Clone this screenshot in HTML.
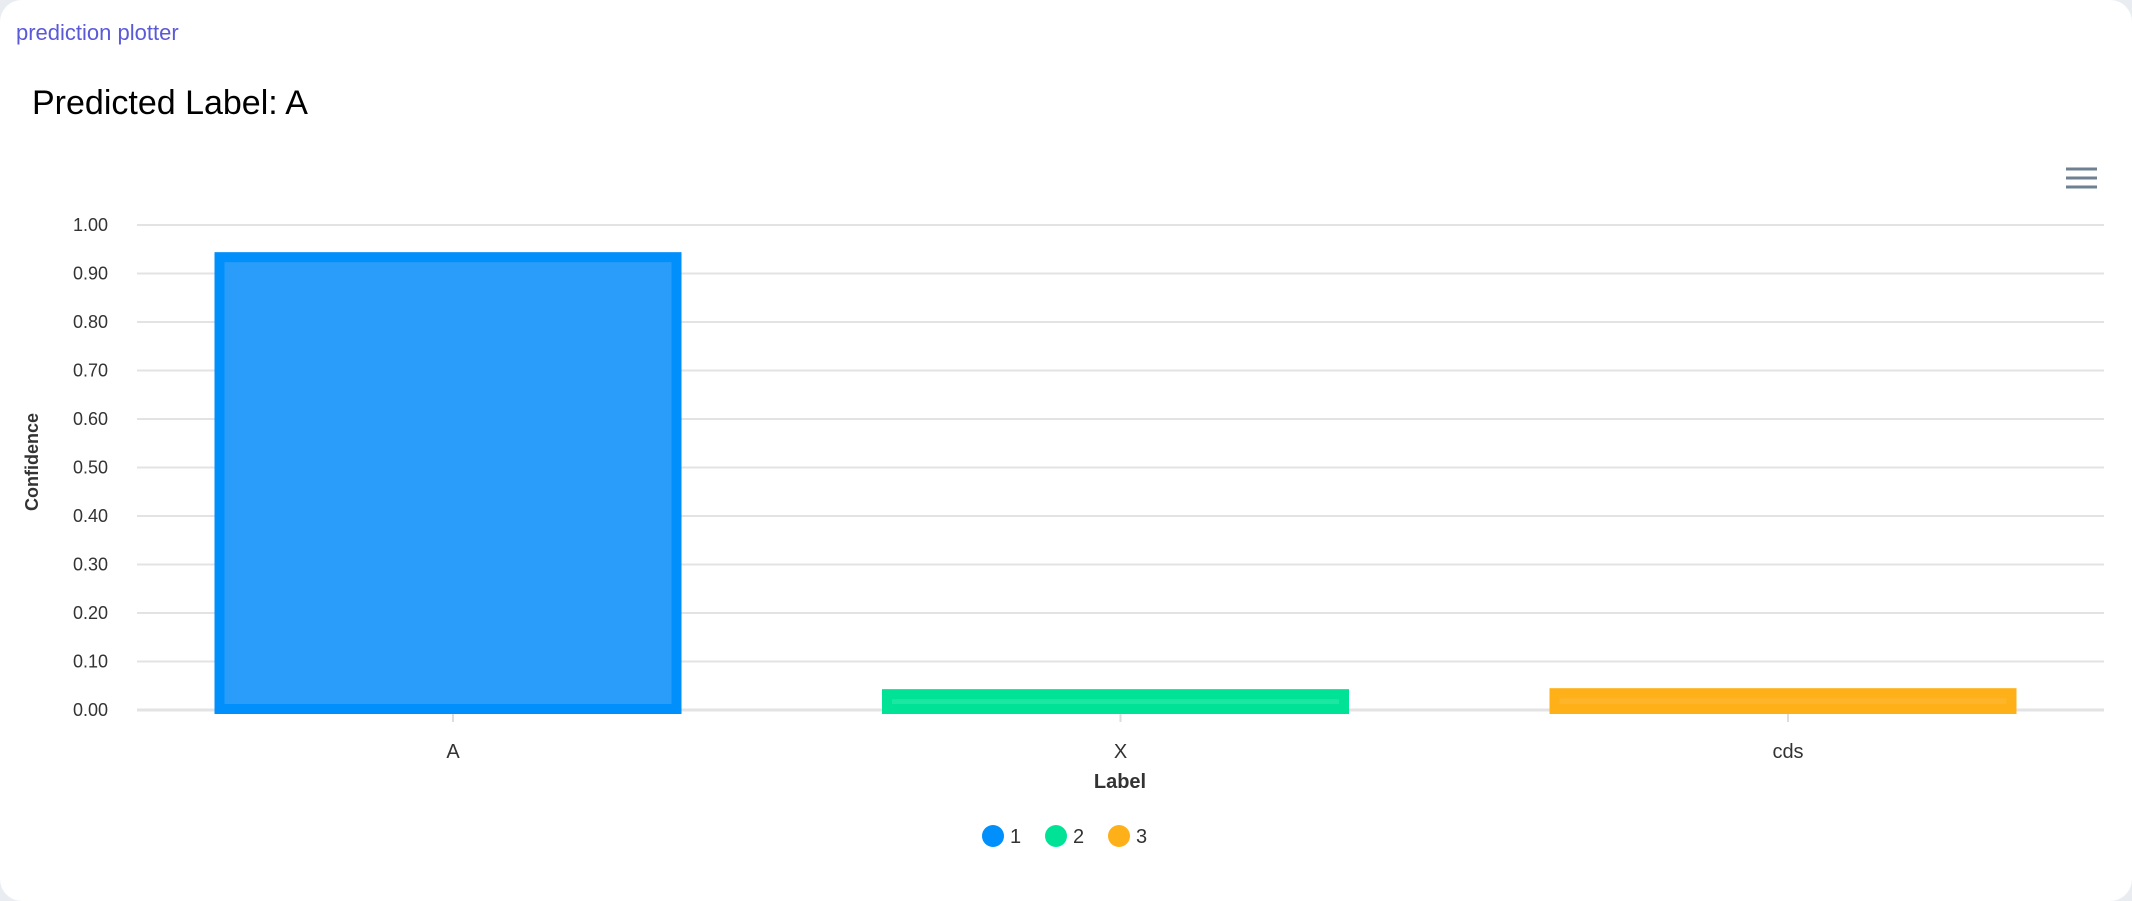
<!DOCTYPE html>
<html><head><meta charset="utf-8">
<style>
html,body{margin:0;padding:0;width:2132px;height:901px;background:#e9edf1;overflow:hidden;}
#card{position:absolute;left:0;top:0;width:2132px;height:901px;background:#fff;border-radius:22px;}
#link{position:absolute;left:16px;top:20px;font:22px "Liberation Sans",sans-serif;color:#5a5ad8;}
#title{position:absolute;left:32px;top:84px;font:34px "Liberation Sans",sans-serif;color:#000;}
svg{position:absolute;left:0;top:0;}
text{font-family:"Liberation Sans",sans-serif;}
</style></head><body>
<div id="card">
<div id="link">prediction plotter</div>
<div id="title">Predicted Label: A</div>
<svg id="chart" width="2132" height="901"></svg>
</div>
<script>
const categories = ["A","X","cds"];
const values = [0.944, 0.043, 0.045];
const seriesNames = ["1","2","3"];
const yTicks = [0,0.1,0.2,0.3,0.4,0.5,0.6,0.7,0.8,0.9,1.0];
const yTickLabels = ["0.00","0.10","0.20","0.30","0.40","0.50","0.60","0.70","0.80","0.90","1.00"];

const colors = ["#008ffb","#00e396","#feb019"];
const inner = ["#2a9cf9","#1ce7a2","#feb52a"];
const NS="http://www.w3.org/2000/svg";
const svg=document.getElementById('chart');
const L=137,R=2104,Y0=710,Y1=225;
const y=v=>Y0-(Y0-Y1)*v;
const xc=i=>448+i*667.5;
function mk(t,a,p){const e=document.createElementNS(NS,t);for(const k in a)e.setAttribute(k,a[k]);(p||svg).appendChild(e);return e;}

yTicks.forEach((t,i)=>{
  const g=mk('line',{x1:L,x2:R,y1:y(t),y2:y(t),stroke:'#e3e3e3','stroke-width':i===0?3:2});
  
  
  const tx=mk('text',{x:108,y:y(t)+6,'text-anchor':'end','font-size':18,fill:'#333'});
  tx.textContent=yTickLabels[i];
  
  
});
const yt=mk('text',{x:0,y:0,'text-anchor':'middle','font-size':18,'font-weight':'bold',fill:'#333',transform:'translate(38,462) rotate(-90)'});
yt.textContent='Confidence';



categories.forEach((c,i)=>{
  const cx=xc(i), w=467, top=y(values[i]), bot=Y0+4;
  const tk=mk('line',{x1:cx+5,x2:cx+5,y1:Y0,y2:Y0+12,stroke:'#ddd','stroke-width':2});
  
  
  const b=mk('rect',{x:cx-w/2,y:top,width:w,height:bot-top,fill:colors[i]});
  
  
  const ih=Math.max(bot-top-20,3);
  const ib=mk('rect',{x:cx-w/2+10,y:top+10,width:w-20,height:ih,fill:inner[i]});
  
  
  const lb=mk('text',{x:cx+5,y:758,'text-anchor':'middle','font-size':20,fill:'#333'});
  lb.textContent=c;
  
  
});
const xt=mk('text',{x:1120,y:788,'text-anchor':'middle','font-size':20,'font-weight':'bold',fill:'#333'});
xt.textContent='Label';



seriesNames.forEach((s,i)=>{
  const cx=993+i*63;
  const c=mk('circle',{cx:cx,cy:836,r:11,fill:colors[i]});
  
  
  const t=mk('text',{x:cx+17,y:843,'font-size':20,fill:'#333'});
  t.textContent=s;
  
  
});

const menu=mk('g',{});


[169,178,187].forEach(yy=>mk('rect',{x:2066,y:yy-1.5,width:31,height:3,fill:'#6e8192'},menu));
</script>
</body></html>
